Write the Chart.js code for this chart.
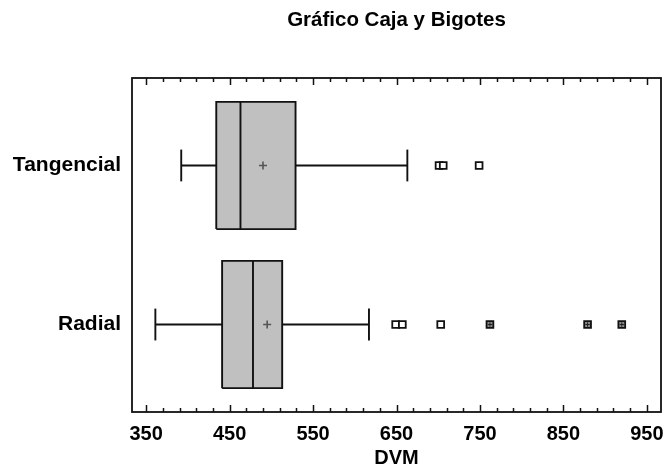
<!DOCTYPE html>
<html>
<head>
<meta charset="utf-8">
<script src="https://cdn.jsdelivr.net/npm/chart.js@4.4.1/dist/chart.umd.min.js"></script>
<style>
    body { margin: 0; background: #fff; }
    #wrap { width: 664px; height: 468px; }
</style>
</head>
<body>
<div id="wrap"><canvas id="boxChart"></canvas></div>
<script>
// Data (DVM)
const categories = ['Tangencial', 'Radial'];
const whiskerLow = [392, 361];
const q1 = [434, 441];
const median = [463, 478];
const mean = [490, 495];
const q3 = [529, 513];
const whiskerHigh = [663, 617];
const outliers = [[701, 706, 749], [649, 657, 703]];
const farOutliers = [[], [762, 879, 920]];

const xMajorTicks = [350, 450, 550, 650, 750, 850, 950];
const xMinorStep = 20;

const FONT = 'Liberation Sans, Arial, sans-serif';
const BOX_HALF = 0.4;
const CAP_HALF = 0.1;

// category i sits at y = n - i (Tangencial on top)
function catPos(i) {
    return categories.length - i;
}

const xAllTicks = [];
for (let v = xMajorTicks[0]; v <= xMajorTicks[xMajorTicks.length - 1]; v += xMinorStep) {
    xAllTicks.push(v);
}

function lineSet(points, order) {
    return {
        type: 'scatter',
        data: points,
        showLine: true,
        borderColor: '#111',
        borderWidth: 1.9,
        pointRadius: 0,
        fill: false,
        order: order
    };
}

const datasets = [];

categories.forEach((name, i) => {
    const c = catPos(i);
    // box
    datasets.push({
        type: 'scatter',
        data: [
            {x: q1[i], y: c - BOX_HALF}, {x: q1[i], y: c + BOX_HALF},
            {x: q3[i], y: c + BOX_HALF}, {x: q3[i], y: c - BOX_HALF},
            {x: q1[i], y: c - BOX_HALF}
        ],
        showLine: true,
        borderColor: '#111',
        borderWidth: 1.9,
        backgroundColor: '#c0c0c0',
        pointRadius: 0,
        fill: 'shape',
        order: 5
    });
    // median
    datasets.push(lineSet([{x: median[i], y: c - BOX_HALF}, {x: median[i], y: c + BOX_HALF}], 4));
    // whiskers
    datasets.push(lineSet([{x: whiskerLow[i], y: c}, {x: q1[i], y: c}], 4));
    datasets.push(lineSet([{x: q3[i], y: c}, {x: whiskerHigh[i], y: c}], 4));
    datasets.push(lineSet([{x: whiskerLow[i], y: c - CAP_HALF}, {x: whiskerLow[i], y: c + CAP_HALF}], 4));
    datasets.push(lineSet([{x: whiskerHigh[i], y: c - CAP_HALF}, {x: whiskerHigh[i], y: c + CAP_HALF}], 4));
});

// means
datasets.push({
    type: 'scatter',
    data: mean.map((m, i) => ({x: m, y: catPos(i)})),
    pointStyle: 'cross',
    pointRadius: 4,
    borderColor: '#555',
    borderWidth: 1.6,
    order: 1
});

// outliers
const outPts = [];
outliers.forEach((list, i) => list.forEach(v => outPts.push({x: v, y: catPos(i)})));
datasets.push({
    type: 'scatter',
    data: outPts,
    pointStyle: 'rect',
    pointRadius: 4.8,
    backgroundColor: '#fff',
    borderColor: '#111',
    borderWidth: 1.8,
    order: 2
});

// far outliers: square with a plus inside
const farPts = [];
farOutliers.forEach((list, i) => list.forEach(v => farPts.push({x: v, y: catPos(i)})));
datasets.push({
    type: 'scatter',
    data: farPts,
    pointStyle: 'rect',
    pointRadius: 4.8,
    backgroundColor: '#8a8a8a',
    borderColor: '#111',
    borderWidth: 1.8,
    order: 2
});
datasets.push({
    type: 'scatter',
    data: farPts,
    pointStyle: 'cross',
    pointRadius: 2.2,
    borderColor: '#222',
    borderWidth: 1,
    order: 1
});

// frame and inward ticks
const frameTicks = {
    id: 'frameTicks',
    afterDraw(chart) {
        const {ctx, chartArea: a} = chart;
        const xs = chart.scales.x;
        ctx.save();
        ctx.strokeStyle = '#111';
        ctx.lineWidth = 1.8;
        ctx.strokeRect(a.left, a.top, a.right - a.left, a.bottom - a.top);
        ctx.lineWidth = 1.5;
        xs.ticks.forEach(t => {
            const px = Math.round(xs.getPixelForValue(t.value)) + 0.5;
            const len = xMajorTicks.includes(t.value) ? 7 : 4;
            ctx.beginPath();
            ctx.moveTo(px, a.bottom);
            ctx.lineTo(px, a.bottom - len);
            ctx.moveTo(px, a.top);
            ctx.lineTo(px, a.top + len);
            ctx.stroke();
        });
        ctx.restore();
    }
};

new Chart(document.getElementById('boxChart').getContext('2d'), {
    type: 'scatter',
    data: { datasets: datasets },
    options: {
        responsive: true,
        maintainAspectRatio: false,
        animation: false,
        events: [],
        layout: { autoPadding: false, padding: { left: 0, right: 3, top: 0, bottom: 0 } },
        plugins: {
            legend: { display: false },
            tooltip: { enabled: false },
            title: {
                display: true,
                text: 'Gráfico Caja y Bigotes',
                fullSize: false,
                color: '#000',
                font: { family: FONT, size: 20.5, weight: 'bold', lineHeight: 1.2 },
                padding: { top: 8, bottom: 45.4 }
            }
        },
        scales: {
            x: {
                type: 'linear',
                min: 333,
                max: 967,
                grid: { display: false, drawTicks: false },
                border: { display: false },
                afterBuildTicks: function(scale) {
                    scale.ticks = xAllTicks.map(v => ({ value: v }));
                },
                afterFit: function(scale) {
                    scale.height = 56;
                    scale.paddingLeft = 0;
                    scale.paddingRight = 0;
                },
                ticks: {
                    autoSkip: false,
                    maxRotation: 0,
                    padding: 10,
                    color: '#000',
                    font: { family: FONT, size: 20, weight: 'bold' },
                    callback: function(value) {
                        return xMajorTicks.includes(value) ? String(value) : '';
                    }
                },
                title: {
                    display: true,
                    text: 'DVM',
                    color: '#000',
                    padding: 0,
                    font: { family: FONT, size: 20, weight: 'bold', lineHeight: 1.0 }
                }
            },
            y: {
                type: 'linear',
                min: 0.45,
                max: 2.55,
                grid: { display: false, drawTicks: false },
                border: { display: false },
                afterBuildTicks: function(scale) {
                    scale.ticks = categories.map((n, i) => ({ value: catPos(i) }));
                },
                afterFit: function(scale) {
                    scale.width = 132;
                    scale.paddingTop = 0;
                    scale.paddingBottom = 0;
                },
                ticks: {
                    padding: 11,
                    color: '#000',
                    font: { family: FONT, size: 21, weight: 'bold' },
                    callback: function(value) {
                        const i = categories.length - value;
                        return categories[i] || '';
                    }
                }
            }
        }
    },
    plugins: [frameTicks]
});
</script>
</body>
</html>
